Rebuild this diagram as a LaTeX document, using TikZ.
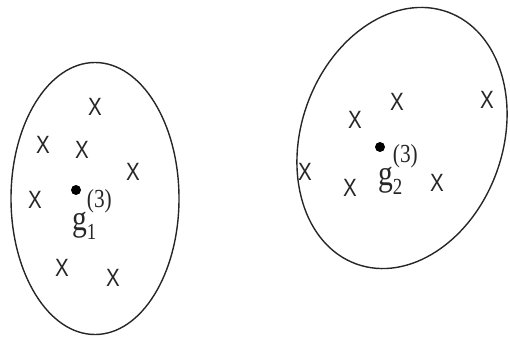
\documentclass[tikz,border=0pt]{standalone}
\usepackage{graphicx}
\usepackage{fontspec}
\setmainfont{Liberation Serif}
\newfontfamily\samplefont{Liberation Sans}
\newcommand{\narrow}[1]{\scalebox{0.82}[1]{#1}}
\newcommand{\centroidlabel}[1]{\narrow{\fontsize{36}{36}\selectfont g}%
  \rlap{\raisebox{23pt}{\narrow{\fontsize{26}{26}\selectfont (3)}}}%
  \raisebox{-9pt}{\narrow{\fontsize{23}{23}\selectfont #1}}}
\begin{document}
\begin{tikzpicture}[x=1pt,y=1pt,
  sample/.style={font=\samplefont\fontsize{25}{25}\selectfont, inner sep=0pt, text=black!85},
  centroid/.style={circle, fill=black, inner sep=0pt, minimum size=10pt},
  clabel/.style={anchor=base west, inner sep=0pt, text=black!85},
  cluster/.style={line width=1.4pt, draw=black!85}]
\useasboundingbox (0,0) rectangle (510,338);
% Cluster 1
\draw[cluster] (95,139.5) ellipse [x radius=84, y radius=136];
\foreach \x/\y [count=\i] in {95/107, 43/145, 82/150, 133/172, 35/200, 62/268, 113/278} {
    \node[sample] (p1\i) at (\x,338-\y) {\narrow{X}};
}
\node[centroid] (c1) at (76,338-190) {};
\node[clabel] (g1) at (72,338-230) {\centroidlabel{1}};
% Cluster 2
\draw[cluster] (402,200) ellipse [x radius=100.6, y radius=134, rotate=-20];
\foreach \x/\y [count=\i] in {397/102, 487/100, 355/120, 305/172, 350/188, 437/183} {
    \node[sample] (p2\i) at (\x,338-\y) {\narrow{X}};
}
\node[centroid] (c2) at (380,338-147) {};
\node[clabel] (g2) at (378,338-185) {\centroidlabel{2}};
\end{tikzpicture}
\end{document}
